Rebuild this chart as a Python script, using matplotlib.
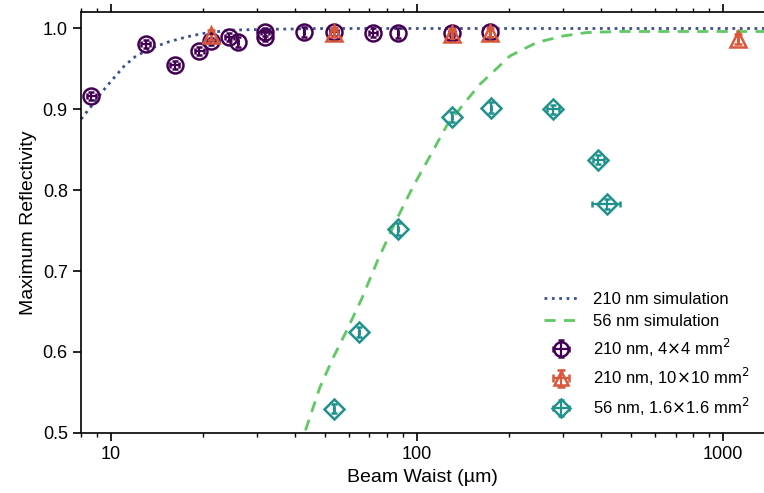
import matplotlib
matplotlib.use("Agg")
import matplotlib.pyplot as plt
import numpy as np

plt.rcParams['font.family'] = ['Liberation Sans', 'DejaVu Sans']

# simulation curves
sim210_w = [8.0, 8.65, 9.44, 10.2, 11.1, 12.1, 13.75, 15.6, 17.7, 20.0, 24.5, 33.1, 50, 100, 1400]
sim210_r = [0.888, 0.904, 0.923, 0.938, 0.954, 0.966, 0.9765, 0.984, 0.9896, 0.9938, 0.998, 0.999, 1.0, 1.0, 1.0]

sim56_w = [41.5, 43.0, 48.2, 53.3, 58.9, 65.9, 74.7, 85.9, 97.3, 110.3, 125.0, 141.7, 160.6,
           201.4, 246.2, 300.7, 358.6, 460, 1400]
sim56_r = [0.48, 0.50, 0.556, 0.593, 0.626, 0.665, 0.7145, 0.764, 0.805, 0.842, 0.8795, 0.906, 0.931,
           0.966, 0.9827, 0.9908, 0.995, 0.9963, 0.9963]

# 210 nm, 4x4 mm2
c_w = [8.65, 13.0, 16.2, 19.5, 21.3, 24.4, 26.1, 32.0, 32.0, 42.8, 53.6, 71.9, 86.5, 130.4, 173.2]
c_r = [0.917, 0.981, 0.955, 0.972, 0.984, 0.990, 0.983, 0.996, 0.990, 0.996, 0.996, 0.995, 0.994, 0.995, 0.996]
c_xe = [0.3, 0.45, 0.55, 0.6, 0.6, 0.8, 0, 1.0, 0, 0, 1.5, 2.0, 0, 3.0, 0]
c_ye = [0.005, 0.005, 0.005, 0.005, 0.004, 0.005, 0.006, 0.005, 0.006, 0.006, 0.005, 0.005, 0.006, 0.005, 0.006]

# 210 nm, 10x10 mm2
t_w = [21.2, 53.6, 130.4, 173.2, 1122]
t_r = [0.992, 0.995, 0.993, 0.995, 0.987]
t_xe = [0, 0, 0, 0, 0]
t_ye = [0.006, 0.006, 0.006, 0.006, 0.006]

# 56 nm, 1.6x1.6 mm2
d_w = [53.7, 64.6, 86.5, 130.4, 174.1, 278.6, 391.3, 416.9]
d_r = [0.530, 0.625, 0.752, 0.891, 0.902, 0.900, 0.838, 0.783]
d_xe = [0, 0, 0, 0, 0, 12, 16, 45]
d_ye = [0.006, 0.006, 0.007, 0.006, 0.007, 0.006, 0.006, 0.006]

col_sim210 = '#3b528b'
col_sim56 = '#5ec962'
col_c = '#440154'
col_t = '#d9573b'
col_d = '#21918c'

fig = plt.figure(figsize=(7.64, 4.93), dpi=100)
ax = fig.add_axes([0.106, 0.122, 0.894, 0.853])

ax.plot(sim210_w, sim210_r, ':', color=col_sim210, lw=2, label='210 nm simulation')
ax.plot(sim56_w, sim56_r, '--', color=col_sim56, lw=2, dashes=(4, 3), label='56 nm simulation')

ax.errorbar(c_w, c_r, xerr=c_xe, yerr=c_ye, fmt='o', mfc='none', mec=col_c, ms=11.5, mew=1.8,
            ecolor=col_c, elinewidth=1.6, capsize=2, capthick=1.6, label=r'210 nm, 4$\times$4 mm$^2$')
ax.errorbar(t_w, t_r, xerr=t_xe, yerr=t_ye, fmt='^', mfc='none', mec=col_t, ms=11.5, mew=1.8,
            ecolor=col_t, elinewidth=1.6, capsize=3, capthick=1.6, label=r'210 nm, 10$\times$10 mm$^2$')
ax.errorbar(d_w, d_r, xerr=d_xe, yerr=d_ye, fmt='D', mfc='none', mec=col_d, ms=10.5, mew=1.8,
            ecolor=col_d, elinewidth=1.6, capsize=2, capthick=1.6, label=r'56 nm, 1.6$\times$1.6 mm$^2$')

ax.set_xscale('log')
ax.set_xlim(8, 1360)
ax.set_ylim(0.5, 1.02)
ax.set_yticks([0.5, 0.6, 0.7, 0.8, 0.9, 1.0])
ax.xaxis.set_major_formatter(matplotlib.ticker.FuncFormatter(lambda v, p: '%d' % v))
ax.tick_params(which='both', direction='out', top=True, right=False, labelsize=13)
ax.tick_params(which='major', length=6, width=1.2)
ax.tick_params(which='minor', length=3, width=1)
ax.spines['right'].set_visible(False)
for s in ['left', 'top', 'bottom']:
    ax.spines[s].set_linewidth(1.2)

ax.set_xlabel('Beam Waist (\u00b5m)', fontsize=14)
ax.set_ylabel('Maximum Reflectivity', fontsize=14)

ax.legend(loc='lower right', frameon=False, fontsize=12, handlelength=2.0, labelspacing=0.45,
          handletextpad=0.9, markerscale=0.9, bbox_to_anchor=(1.0, 0.0))

fig.savefig('out.png', dpi=100)
